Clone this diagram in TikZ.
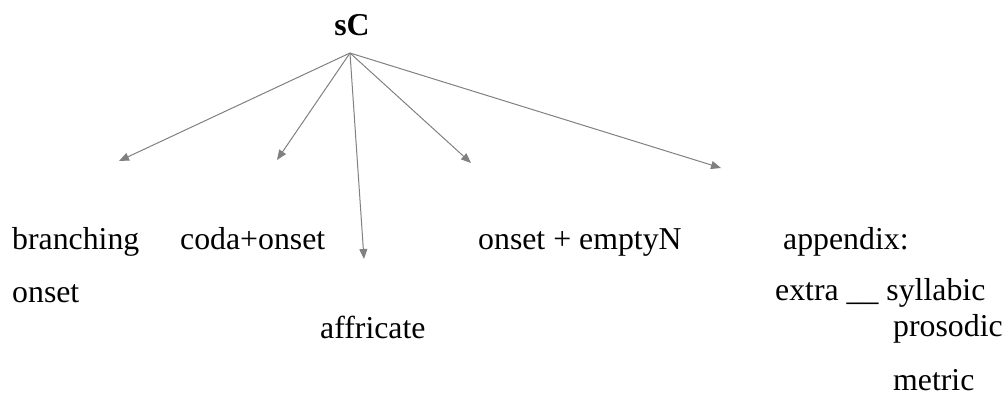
\documentclass[tikz,border=0pt]{standalone}
\usepackage{fontspec}
\setmainfont{Liberation Serif}
\usetikzlibrary{arrows.meta}
\tikzset{
  lbl/.style={anchor=base west, inner sep=0pt, font=\fontsize{31.8}{38}\selectfont},
  conn/.style={draw=arrowgray, line width=1pt, -{Triangle[length=10pt,width=8pt]}}
}
\definecolor{arrowgray}{RGB}{128,128,128}
\begin{document}
\begin{tikzpicture}[x=1pt,y=-1pt]
\useasboundingbox (0,0) rectangle (1005,394);
\node[anchor=base, inner sep=0pt, font=\fontsize{31.8}{38}\selectfont\bfseries] (sc) at (352,35) {sC};
\coordinate (apex) at (350,53);
\coordinate (t1) at (119,161);
\coordinate (t2) at (277,160);
\coordinate (t3) at (364,259);
\coordinate (t4) at (471,163);
\coordinate (t5) at (721,168);
\foreach \t in {t1,t2,t3,t4,t5} \draw[conn] (apex) -- (\t);
\node[lbl] (branching) at (12,249) {branching};
\node[lbl] (onset) at (12,302) {onset};
\node[lbl] (coda) at (180,249) {coda+onset};
\node[lbl] (affricate) at (320,338) {affricate};
\node[lbl] (empty) at (478,249) {onset + emptyN};
\node[lbl] (appendix) at (783,249) {appendix:};
\node[lbl] (extra) at (775,300) {extra \_\_ syllabic};
\node[lbl] (prosodic) at (893,336) {prosodic};
\node[lbl] (metric) at (893,390) {metric};
\end{tikzpicture}
\end{document}
